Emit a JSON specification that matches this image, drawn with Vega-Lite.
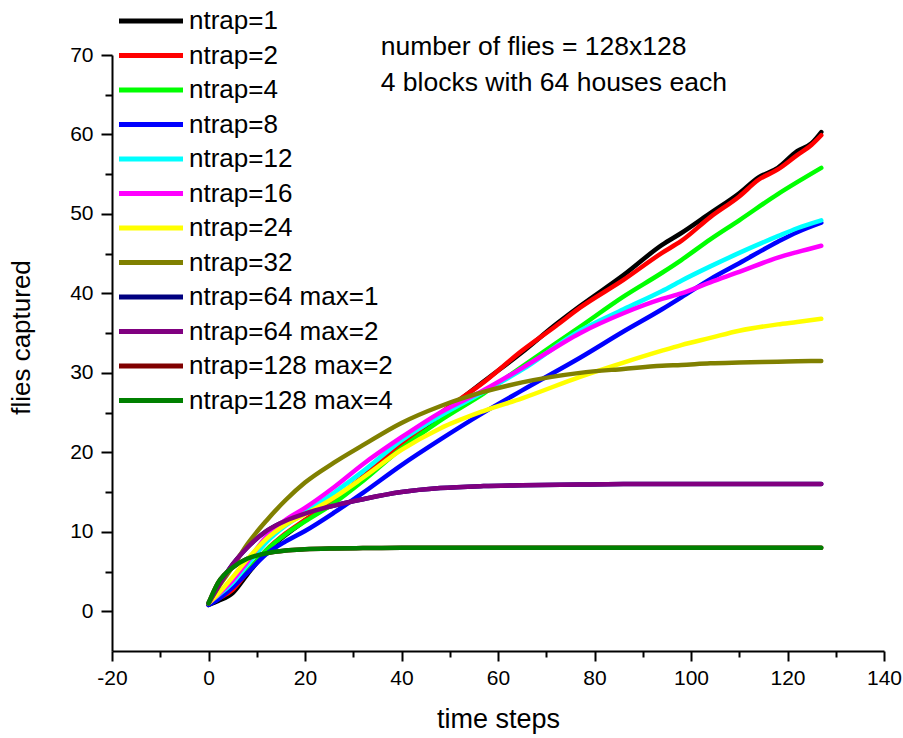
{
  "$schema": "https://vega.github.io/schema/vega-lite/v6.json",
  "width": 772,
  "height": 596,
  "autosize": {"type": "none"},
  "padding": {"left": 112, "top": 55, "right": 19, "bottom": 87},
  "background": "white",
  "config": {
    "view": {"stroke": null},
    "font": "Liberation Sans",
    "axis": {"labelFont": "Liberation Sans", "titleFont": "Liberation Sans", "titleFontWeight": "normal", "labelColor": "black", "titleColor": "black", "domainColor": "black", "tickColor": "black", "domainWidth": 2, "tickWidth": 2, "grid": false}
  },
  "datasets": {
    "curves": [
      {"s":"ntrap=1","t":0,"v":0.8},{"s":"ntrap=1","t":2,"v":1.3},{"s":"ntrap=1","t":5,"v":2.3},{"s":"ntrap=1","t":8,"v":4.6},{"s":"ntrap=1","t":12,"v":7.5},{"s":"ntrap=1","t":16,"v":9.6},{"s":"ntrap=1","t":20,"v":11.4},{"s":"ntrap=1","t":26,"v":14.0},{"s":"ntrap=1","t":32,"v":16.9},{"s":"ntrap=1","t":40,"v":20.9},{"s":"ntrap=1","t":48,"v":24.7},{"s":"ntrap=1","t":57,"v":28.9},{"s":"ntrap=1","t":65,"v":32.6},{"s":"ntrap=1","t":72,"v":36.1},{"s":"ntrap=1","t":77,"v":38.4},{"s":"ntrap=1","t":86,"v":42.3},{"s":"ntrap=1","t":94,"v":46.1},{"s":"ntrap=1","t":98,"v":47.6},{"s":"ntrap=1","t":104,"v":50.1},{"s":"ntrap=1","t":110,"v":52.6},{"s":"ntrap=1","t":114,"v":54.6},{"s":"ntrap=1","t":118,"v":55.8},{"s":"ntrap=1","t":122,"v":57.9},{"s":"ntrap=1","t":125,"v":58.9},{"s":"ntrap=1","t":127,"v":60.3},
      {"s":"ntrap=2","t":0,"v":0.9},{"s":"ntrap=2","t":2,"v":1.6},{"s":"ntrap=2","t":5,"v":2.7},{"s":"ntrap=2","t":8,"v":4.9},{"s":"ntrap=2","t":12,"v":7.7},{"s":"ntrap=2","t":16,"v":9.8},{"s":"ntrap=2","t":20,"v":11.5},{"s":"ntrap=2","t":26,"v":14.1},{"s":"ntrap=2","t":32,"v":16.9},{"s":"ntrap=2","t":40,"v":21.0},{"s":"ntrap=2","t":48,"v":24.9},{"s":"ntrap=2","t":57,"v":28.8},{"s":"ntrap=2","t":65,"v":32.8},{"s":"ntrap=2","t":72,"v":35.9},{"s":"ntrap=2","t":77,"v":38.2},{"s":"ntrap=2","t":86,"v":41.7},{"s":"ntrap=2","t":94,"v":45.1},{"s":"ntrap=2","t":98,"v":46.6},{"s":"ntrap=2","t":104,"v":49.6},{"s":"ntrap=2","t":110,"v":52.2},{"s":"ntrap=2","t":114,"v":54.3},{"s":"ntrap=2","t":118,"v":55.6},{"s":"ntrap=2","t":122,"v":57.4},{"s":"ntrap=2","t":125,"v":58.7},{"s":"ntrap=2","t":127,"v":59.9},
      {"s":"ntrap=4","t":0,"v":1.0},{"s":"ntrap=4","t":2,"v":1.9},{"s":"ntrap=4","t":5,"v":3.2},{"s":"ntrap=4","t":8,"v":5.0},{"s":"ntrap=4","t":12,"v":7.7},{"s":"ntrap=4","t":16,"v":9.7},{"s":"ntrap=4","t":20,"v":11.3},{"s":"ntrap=4","t":26,"v":13.6},{"s":"ntrap=4","t":32,"v":16.4},{"s":"ntrap=4","t":40,"v":20.5},{"s":"ntrap=4","t":48,"v":24.0},{"s":"ntrap=4","t":57,"v":27.4},{"s":"ntrap=4","t":65,"v":30.8},{"s":"ntrap=4","t":77,"v":35.8},{"s":"ntrap=4","t":86,"v":39.6},{"s":"ntrap=4","t":94,"v":42.6},{"s":"ntrap=4","t":98,"v":44.2},{"s":"ntrap=4","t":104,"v":46.8},{"s":"ntrap=4","t":110,"v":49.2},{"s":"ntrap=4","t":118,"v":52.5},{"s":"ntrap=4","t":122,"v":54.0},{"s":"ntrap=4","t":127,"v":55.8},
      {"s":"ntrap=8","t":0,"v":0.8},{"s":"ntrap=8","t":2,"v":1.5},{"s":"ntrap=8","t":5,"v":3.0},{"s":"ntrap=8","t":8,"v":4.8},{"s":"ntrap=8","t":12,"v":7.2},{"s":"ntrap=8","t":16,"v":8.8},{"s":"ntrap=8","t":20,"v":10.1},{"s":"ntrap=8","t":26,"v":12.4},{"s":"ntrap=8","t":32,"v":14.9},{"s":"ntrap=8","t":40,"v":18.4},{"s":"ntrap=8","t":48,"v":21.6},{"s":"ntrap=8","t":57,"v":25.0},{"s":"ntrap=8","t":65,"v":27.8},{"s":"ntrap=8","t":77,"v":31.9},{"s":"ntrap=8","t":86,"v":35.2},{"s":"ntrap=8","t":94,"v":38.0},{"s":"ntrap=8","t":98,"v":39.5},{"s":"ntrap=8","t":104,"v":41.8},{"s":"ntrap=8","t":110,"v":43.8},{"s":"ntrap=8","t":118,"v":46.5},{"s":"ntrap=8","t":122,"v":47.7},{"s":"ntrap=8","t":127,"v":48.9},
      {"s":"ntrap=12","t":0,"v":1.0},{"s":"ntrap=12","t":2,"v":2.0},{"s":"ntrap=12","t":5,"v":3.6},{"s":"ntrap=12","t":8,"v":5.8},{"s":"ntrap=12","t":12,"v":8.7},{"s":"ntrap=12","t":16,"v":10.8},{"s":"ntrap=12","t":20,"v":12.4},{"s":"ntrap=12","t":26,"v":14.9},{"s":"ntrap=12","t":32,"v":17.6},{"s":"ntrap=12","t":40,"v":21.5},{"s":"ntrap=12","t":48,"v":24.6},{"s":"ntrap=12","t":57,"v":27.6},{"s":"ntrap=12","t":65,"v":30.4},{"s":"ntrap=12","t":77,"v":35.3},{"s":"ntrap=12","t":86,"v":38.0},{"s":"ntrap=12","t":94,"v":40.3},{"s":"ntrap=12","t":98,"v":41.6},{"s":"ntrap=12","t":104,"v":43.4},{"s":"ntrap=12","t":110,"v":45.1},{"s":"ntrap=12","t":118,"v":47.2},{"s":"ntrap=12","t":122,"v":48.2},{"s":"ntrap=12","t":127,"v":49.2},
      {"s":"ntrap=16","t":0,"v":1.0},{"s":"ntrap=16","t":2,"v":2.1},{"s":"ntrap=16","t":5,"v":3.9},{"s":"ntrap=16","t":8,"v":6.2},{"s":"ntrap=16","t":12,"v":9.4},{"s":"ntrap=16","t":16,"v":11.5},{"s":"ntrap=16","t":20,"v":13.0},{"s":"ntrap=16","t":26,"v":15.6},{"s":"ntrap=16","t":32,"v":18.5},{"s":"ntrap=16","t":40,"v":21.9},{"s":"ntrap=16","t":48,"v":25.0},{"s":"ntrap=16","t":57,"v":27.8},{"s":"ntrap=16","t":65,"v":30.6},{"s":"ntrap=16","t":77,"v":35.0},{"s":"ntrap=16","t":86,"v":37.5},{"s":"ntrap=16","t":94,"v":39.3},{"s":"ntrap=16","t":98,"v":40.0},{"s":"ntrap=16","t":104,"v":41.4},{"s":"ntrap=16","t":110,"v":42.7},{"s":"ntrap=16","t":118,"v":44.5},{"s":"ntrap=16","t":122,"v":45.2},{"s":"ntrap=16","t":127,"v":46.0},
      {"s":"ntrap=24","t":0,"v":1.0},{"s":"ntrap=24","t":2,"v":2.2},{"s":"ntrap=24","t":5,"v":4.3},{"s":"ntrap=24","t":8,"v":6.5},{"s":"ntrap=24","t":12,"v":9.1},{"s":"ntrap=24","t":16,"v":10.9},{"s":"ntrap=24","t":20,"v":12.2},{"s":"ntrap=24","t":26,"v":14.3},{"s":"ntrap=24","t":32,"v":16.8},{"s":"ntrap=24","t":40,"v":20.3},{"s":"ntrap=24","t":48,"v":23.0},{"s":"ntrap=24","t":57,"v":25.2},{"s":"ntrap=24","t":65,"v":26.8},{"s":"ntrap=24","t":77,"v":29.5},{"s":"ntrap=24","t":86,"v":31.3},{"s":"ntrap=24","t":94,"v":32.8},{"s":"ntrap=24","t":98,"v":33.5},{"s":"ntrap=24","t":104,"v":34.4},{"s":"ntrap=24","t":110,"v":35.3},{"s":"ntrap=24","t":118,"v":36.1},{"s":"ntrap=24","t":122,"v":36.4},{"s":"ntrap=24","t":127,"v":36.8},
      {"s":"ntrap=32","t":0,"v":1.0},{"s":"ntrap=32","t":2,"v":3.0},{"s":"ntrap=32","t":5,"v":5.6},{"s":"ntrap=32","t":8,"v":8.4},{"s":"ntrap=32","t":12,"v":11.4},{"s":"ntrap=32","t":16,"v":14.0},{"s":"ntrap=32","t":20,"v":16.2},{"s":"ntrap=32","t":26,"v":18.7},{"s":"ntrap=32","t":32,"v":20.9},{"s":"ntrap=32","t":40,"v":23.7},{"s":"ntrap=32","t":48,"v":25.8},{"s":"ntrap=32","t":57,"v":27.6},{"s":"ntrap=32","t":65,"v":28.8},{"s":"ntrap=32","t":77,"v":30.0},{"s":"ntrap=32","t":86,"v":30.5},{"s":"ntrap=32","t":94,"v":30.9},{"s":"ntrap=32","t":98,"v":31.0},{"s":"ntrap=32","t":104,"v":31.2},{"s":"ntrap=32","t":110,"v":31.3},{"s":"ntrap=32","t":118,"v":31.4},{"s":"ntrap=32","t":122,"v":31.45},{"s":"ntrap=32","t":127,"v":31.5},
      {"s":"ntrap=64 max=1","t":0,"v":1.0},{"s":"ntrap=64 max=1","t":2,"v":3.1},{"s":"ntrap=64 max=1","t":5,"v":5.9},{"s":"ntrap=64 max=1","t":8,"v":8.0},{"s":"ntrap=64 max=1","t":12,"v":10.1},{"s":"ntrap=64 max=1","t":16,"v":11.4},{"s":"ntrap=64 max=1","t":20,"v":12.3},{"s":"ntrap=64 max=1","t":26,"v":13.3},{"s":"ntrap=64 max=1","t":32,"v":14.1},{"s":"ntrap=64 max=1","t":40,"v":15.0},{"s":"ntrap=64 max=1","t":48,"v":15.5},{"s":"ntrap=64 max=1","t":57,"v":15.75},{"s":"ntrap=64 max=1","t":65,"v":15.85},{"s":"ntrap=64 max=1","t":77,"v":15.95},{"s":"ntrap=64 max=1","t":86,"v":16.0},{"s":"ntrap=64 max=1","t":94,"v":16.0},{"s":"ntrap=64 max=1","t":98,"v":16.0},{"s":"ntrap=64 max=1","t":104,"v":16.0},{"s":"ntrap=64 max=1","t":110,"v":16.0},{"s":"ntrap=64 max=1","t":118,"v":16.0},{"s":"ntrap=64 max=1","t":122,"v":16.0},{"s":"ntrap=64 max=1","t":127,"v":16.0},
      {"s":"ntrap=64 max=2","t":0,"v":1.0},{"s":"ntrap=64 max=2","t":2,"v":3.1},{"s":"ntrap=64 max=2","t":5,"v":5.9},{"s":"ntrap=64 max=2","t":8,"v":8.0},{"s":"ntrap=64 max=2","t":12,"v":10.1},{"s":"ntrap=64 max=2","t":16,"v":11.4},{"s":"ntrap=64 max=2","t":20,"v":12.3},{"s":"ntrap=64 max=2","t":26,"v":13.3},{"s":"ntrap=64 max=2","t":32,"v":14.1},{"s":"ntrap=64 max=2","t":40,"v":15.0},{"s":"ntrap=64 max=2","t":48,"v":15.5},{"s":"ntrap=64 max=2","t":57,"v":15.75},{"s":"ntrap=64 max=2","t":65,"v":15.85},{"s":"ntrap=64 max=2","t":77,"v":15.95},{"s":"ntrap=64 max=2","t":86,"v":16.0},{"s":"ntrap=64 max=2","t":94,"v":16.0},{"s":"ntrap=64 max=2","t":98,"v":16.0},{"s":"ntrap=64 max=2","t":104,"v":16.0},{"s":"ntrap=64 max=2","t":110,"v":16.0},{"s":"ntrap=64 max=2","t":118,"v":16.0},{"s":"ntrap=64 max=2","t":122,"v":16.0},{"s":"ntrap=64 max=2","t":127,"v":16.0},
      {"s":"ntrap=128 max=2","t":0,"v":1.0},{"s":"ntrap=128 max=2","t":2,"v":3.6},{"s":"ntrap=128 max=2","t":5,"v":5.5},{"s":"ntrap=128 max=2","t":8,"v":6.6},{"s":"ntrap=128 max=2","t":12,"v":7.3},{"s":"ntrap=128 max=2","t":16,"v":7.65},{"s":"ntrap=128 max=2","t":20,"v":7.8},{"s":"ntrap=128 max=2","t":26,"v":7.9},{"s":"ntrap=128 max=2","t":32,"v":7.95},{"s":"ntrap=128 max=2","t":40,"v":8.0},{"s":"ntrap=128 max=2","t":48,"v":8.0},{"s":"ntrap=128 max=2","t":57,"v":8.0},{"s":"ntrap=128 max=2","t":65,"v":8.0},{"s":"ntrap=128 max=2","t":77,"v":8.0},{"s":"ntrap=128 max=2","t":86,"v":8.0},{"s":"ntrap=128 max=2","t":94,"v":8.0},{"s":"ntrap=128 max=2","t":98,"v":8.0},{"s":"ntrap=128 max=2","t":104,"v":8.0},{"s":"ntrap=128 max=2","t":110,"v":8.0},{"s":"ntrap=128 max=2","t":118,"v":8.0},{"s":"ntrap=128 max=2","t":122,"v":8.0},{"s":"ntrap=128 max=2","t":127,"v":8.0},
      {"s":"ntrap=128 max=4","t":0,"v":1.0},{"s":"ntrap=128 max=4","t":2,"v":3.6},{"s":"ntrap=128 max=4","t":5,"v":5.5},{"s":"ntrap=128 max=4","t":8,"v":6.6},{"s":"ntrap=128 max=4","t":12,"v":7.3},{"s":"ntrap=128 max=4","t":16,"v":7.65},{"s":"ntrap=128 max=4","t":20,"v":7.8},{"s":"ntrap=128 max=4","t":26,"v":7.9},{"s":"ntrap=128 max=4","t":32,"v":7.95},{"s":"ntrap=128 max=4","t":40,"v":8.0},{"s":"ntrap=128 max=4","t":48,"v":8.0},{"s":"ntrap=128 max=4","t":57,"v":8.0},{"s":"ntrap=128 max=4","t":65,"v":8.0},{"s":"ntrap=128 max=4","t":77,"v":8.0},{"s":"ntrap=128 max=4","t":86,"v":8.0},{"s":"ntrap=128 max=4","t":94,"v":8.0},{"s":"ntrap=128 max=4","t":98,"v":8.0},{"s":"ntrap=128 max=4","t":104,"v":8.0},{"s":"ntrap=128 max=4","t":110,"v":8.0},{"s":"ntrap=128 max=4","t":118,"v":8.0},{"s":"ntrap=128 max=4","t":122,"v":8.0},{"s":"ntrap=128 max=4","t":127,"v":8.0}
    ],
    "notes": [
      {"t": 35.7, "v": 71.0, "label": "number of flies = 128x128"},
      {"t": 35.7, "v": 66.5, "label": "4 blocks with 64 houses each"}
    ]
  },
  "data": {"name": "curves"},
  "encoding": {
    "x": {"field": "t", "type": "quantitative", "title": "time steps",
      "scale": {"domain": [-20, 140], "nice": false, "zero": false},
      "axis": {"values": [-20,-10,0,10,20,30,40,50,60,70,80,90,100,110,120,130,140],
        "labelExpr": "datum.value % 20 === 0 ? '' + datum.value : ''",
        "tickSize": {"condition": {"test": "datum.value % 20 === 0", "value": 10}, "value": 6},
        "labelFontSize": 21, "labelPadding": 6, "labelFlush": false, "labelOverlap": false,
        "titleFontSize": 27, "titlePadding": 18}},
    "y": {"field": "v", "type": "quantitative", "title": "flies captured",
      "scale": {"domain": [-5, 70], "nice": false, "zero": false},
      "axis": {"values": [0,5,10,15,20,25,30,35,40,45,50,55,60,65,70],
        "labelExpr": "datum.value % 10 === 0 ? '' + datum.value : ''",
        "tickSize": {"condition": {"test": "datum.value % 10 === 0", "value": 11}, "value": 7},
        "labelFontSize": 21, "labelPadding": 8, "labelFlush": false, "labelOverlap": false,
        "titleFontSize": 26, "titleX": -78, "titleY": 282, "titleAngle": 270, "titleAlign": "center", "titleBaseline": "bottom"}},
    "color": {"field": "s", "type": "nominal",
      "scale": {"domain": ["ntrap=1","ntrap=2","ntrap=4","ntrap=8","ntrap=12","ntrap=16","ntrap=24","ntrap=32","ntrap=64 max=1","ntrap=64 max=2","ntrap=128 max=2","ntrap=128 max=4"],
        "range": ["#000000","#ff0000","#00ff00","#0000ff","#00ffff","#ff00ff","#ffff00","#808000","#000080","#800080","#800000","#008000"]},
      "legend": {"title": null, "orient": "none", "legendX": 4, "legendY": -47, "padding": 0,
        "symbolType": "M-1,0H5.4", "symbolSize": 400, "symbolStrokeWidth": 5,
        "labelFont": "Liberation Sans", "labelFontSize": 26, "labelColor": "black", "labelOffset": 47,
        "rowPadding": 8.5, "labelLimit": 400}}
  },
  "layer": [
    {"transform": [{"filter": "datum.s === 'ntrap=64 max=1'"}], "mark": {"type": "line", "interpolate": "monotone", "strokeWidth": 4.5, "strokeCap": "round", "strokeJoin": "round", "clip": false}},
    {"transform": [{"filter": "datum.s === 'ntrap=128 max=2'"}], "mark": {"type": "line", "interpolate": "monotone", "strokeWidth": 4.5, "strokeCap": "round", "strokeJoin": "round", "clip": false}},
    {"transform": [{"filter": "datum.s === 'ntrap=1'"}], "mark": {"type": "line", "interpolate": "monotone", "strokeWidth": 4.5, "strokeCap": "round", "strokeJoin": "round", "clip": false}},
    {"transform": [{"filter": "datum.s === 'ntrap=2'"}], "mark": {"type": "line", "interpolate": "monotone", "strokeWidth": 4.5, "strokeCap": "round", "strokeJoin": "round", "clip": false}},
    {"transform": [{"filter": "datum.s === 'ntrap=4'"}], "mark": {"type": "line", "interpolate": "monotone", "strokeWidth": 4.5, "strokeCap": "round", "strokeJoin": "round", "clip": false}},
    {"transform": [{"filter": "datum.s === 'ntrap=8'"}], "mark": {"type": "line", "interpolate": "monotone", "strokeWidth": 4.5, "strokeCap": "round", "strokeJoin": "round", "clip": false}},
    {"transform": [{"filter": "datum.s === 'ntrap=12'"}], "mark": {"type": "line", "interpolate": "monotone", "strokeWidth": 4.5, "strokeCap": "round", "strokeJoin": "round", "clip": false}},
    {"transform": [{"filter": "datum.s === 'ntrap=16'"}], "mark": {"type": "line", "interpolate": "monotone", "strokeWidth": 4.5, "strokeCap": "round", "strokeJoin": "round", "clip": false}},
    {"transform": [{"filter": "datum.s === 'ntrap=24'"}], "mark": {"type": "line", "interpolate": "monotone", "strokeWidth": 4.5, "strokeCap": "round", "strokeJoin": "round", "clip": false}},
    {"transform": [{"filter": "datum.s === 'ntrap=32'"}], "mark": {"type": "line", "interpolate": "monotone", "strokeWidth": 4.5, "strokeCap": "round", "strokeJoin": "round", "clip": false}},
    {"transform": [{"filter": "datum.s === 'ntrap=64 max=2'"}], "mark": {"type": "line", "interpolate": "monotone", "strokeWidth": 4.5, "strokeCap": "round", "strokeJoin": "round", "clip": false}},
    {"transform": [{"filter": "datum.s === 'ntrap=128 max=4'"}], "mark": {"type": "line", "interpolate": "monotone", "strokeWidth": 4.5, "strokeCap": "round", "strokeJoin": "round", "clip": false}},
    {"data": {"name": "notes"},
     "mark": {"type": "text", "align": "left", "baseline": "middle", "font": "Liberation Sans", "fontSize": 26.5, "color": "black", "clip": false},
     "encoding": {"text": {"field": "label"}, "color": {"value": "black"}}}
  ]
}
